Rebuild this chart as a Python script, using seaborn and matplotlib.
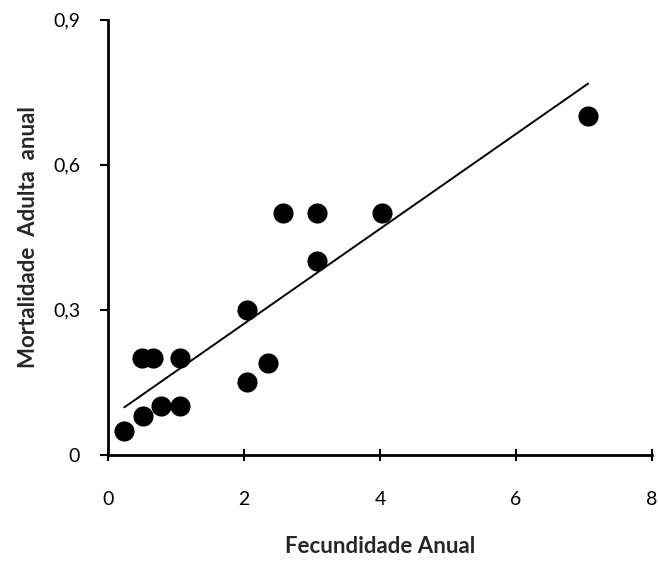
import numpy as np
import pandas as pd
import matplotlib
matplotlib.use("Agg")
import matplotlib.pyplot as plt
import seaborn as sns

fecundidade = [0.24, 0.52, 0.50, 0.66, 0.78, 1.06, 1.06, 2.04, 2.04, 2.36, 2.57, 3.07, 3.07, 4.03, 7.06]
mortalidade = [0.05, 0.08, 0.20, 0.20, 0.10, 0.20, 0.10, 0.30, 0.15, 0.19, 0.50, 0.50, 0.40, 0.50, 0.70]
x_ticks = [0, 2, 4, 6, 8]
y_ticks = [0, 0.3, 0.6, 0.9]
y_tick_labels = ["0", "0,3", "0,6", "0,9"]

df = pd.DataFrame({"Fecundidade": fecundidade, "Mortalidade": mortalidade})

sns.set_style("ticks")
plt.rcParams["font.family"] = ["Lato", "DejaVu Sans"]

fig = plt.figure(figsize=(6.58, 5.65), dpi=100)
ax = fig.add_axes([0.164, 0.195, 0.827, 0.77])

sns.scatterplot(data=df, x="Fecundidade", y="Mortalidade", ax=ax,
                color="black", s=210, edgecolor="black", linewidth=0, zorder=3)

coef = np.polyfit(df["Fecundidade"], df["Mortalidade"], 1)
xs = np.array([min(fecundidade), max(fecundidade)])
sns.lineplot(x=xs, y=np.polyval(coef, xs), ax=ax, color="black", linewidth=1.4)

ax.set_xlim(0, 8)
ax.set_ylim(0, 0.9)
ax.set_xticks(x_ticks)
ax.set_xticklabels([str(t) for t in x_ticks])
ax.set_yticks(y_ticks)
ax.set_yticklabels(y_tick_labels)
ax.tick_params(axis="x", direction="inout", length=8, width=1.5, labelsize=14, pad=22, colors="black")
ax.tick_params(axis="y", direction="out", length=6, width=1.5, labelsize=14, pad=14, colors="black")
for s in ["top", "right"]:
    ax.spines[s].set_visible(False)
for s in ["left", "bottom"]:
    ax.spines[s].set_linewidth(2)
    ax.spines[s].set_color("black")

ax.set_xlabel("Fecundidade Anual", fontsize=16, fontweight="bold", labelpad=20)
ax.set_ylabel("Mortalidade  Adulta  anual", fontsize=16, fontweight="bold", labelpad=10)

fig.savefig("out.png", dpi=100)
